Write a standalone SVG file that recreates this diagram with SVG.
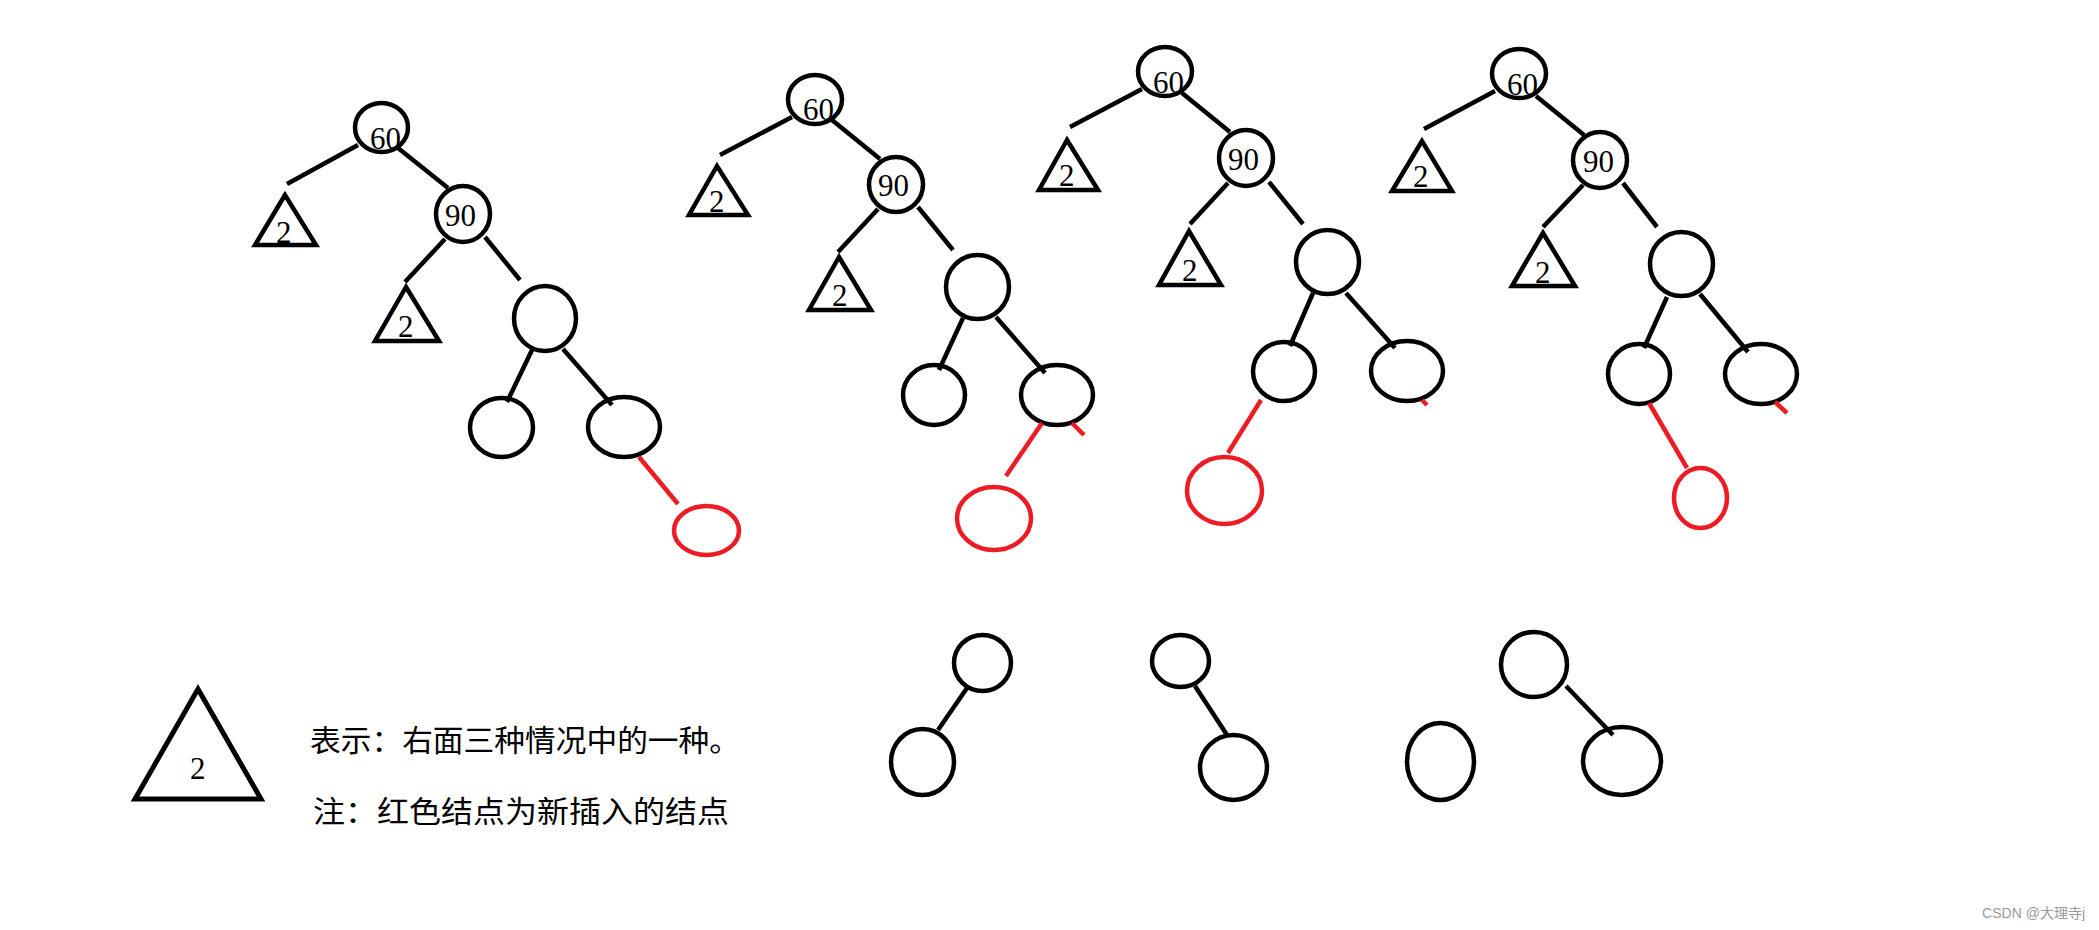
<svg xmlns="http://www.w3.org/2000/svg" width="2099" height="930" viewBox="0 0 2099 930">
<style>
.n{fill:none;stroke:#000;stroke-width:4.5}
.r{fill:none;stroke:#ED1C24;stroke-width:4.5}
.t{fill:none;stroke:#000;stroke-width:4.5;stroke-linejoin:miter}
.e line{stroke:#000;stroke-width:4.5}
.e line.red{stroke:#ED1C24}
.d{font-family:"Liberation Serif",serif;font-size:31px;fill:#000}
.cn{font-family:"Noto Sans CJK SC",sans-serif;font-size:30px;fill:#000}
</style>
<rect width="2099" height="930" fill="#fff"/>
<!-- Tree 1 -->
<g id="t1-n60"><ellipse class="n" cx="381.5" cy="127.5" rx="26.5" ry="24.5"/><text class="d" x="370" y="149">60</text></g>
<g id="t1-tri1"><polygon class="t" points="285,195 255,245 316,245"/><text class="d" x="276" y="243">2</text></g>
<g id="t1-n90"><ellipse class="n" cx="463" cy="214" rx="27" ry="28"/><text class="d" x="445" y="226">90</text></g>
<g id="t1-tri2"><polygon class="t" points="406,287 375,341 439,341"/><text class="d" x="398" y="337">2</text></g>
<g id="t1-c"><ellipse class="n" cx="545" cy="318.5" rx="31" ry="32.5"/></g>
<g id="t1-ll"><ellipse class="n" cx="501.5" cy="427.5" rx="31.5" ry="29.5"/></g>
<g id="t1-lr"><ellipse class="n" cx="624" cy="427" rx="36" ry="30"/></g>
<g id="t1-new"><ellipse class="r" cx="706.5" cy="530.5" rx="32.5" ry="24.5"/></g>
<!-- Tree 2 -->
<g id="t2-n60"><ellipse class="n" cx="815" cy="99.5" rx="27" ry="24.5"/><text class="d" x="803" y="120">60</text></g>
<g id="t2-tri1"><polygon class="t" points="717,166 689,215 748,215"/><text class="d" x="709" y="212">2</text></g>
<g id="t2-n90"><ellipse class="n" cx="896" cy="184.5" rx="27" ry="27.5"/><text class="d" x="878" y="196">90</text></g>
<g id="t2-tri2"><polygon class="t" points="839,257 809,310 871,310"/><text class="d" x="832" y="306">2</text></g>
<g id="t2-c"><ellipse class="n" cx="977.5" cy="287" rx="31.5" ry="32"/></g>
<g id="t2-ll"><ellipse class="n" cx="934" cy="395" rx="31" ry="30"/></g>
<g id="t2-lr"><ellipse class="n" cx="1057" cy="395" rx="36" ry="30"/></g>
<g id="t2-new"><ellipse class="r" cx="994" cy="518.5" rx="37" ry="31.5"/></g>
<!-- Tree 3 -->
<g id="t3-n60"><ellipse class="n" cx="1165" cy="71.5" rx="27" ry="24.5"/><text class="d" x="1153" y="93">60</text></g>
<g id="t3-tri1"><polygon class="t" points="1067,140 1039,190 1098,190"/><text class="d" x="1059" y="186">2</text></g>
<g id="t3-n90"><ellipse class="n" cx="1246" cy="158" rx="27" ry="28"/><text class="d" x="1228" y="170">90</text></g>
<g id="t3-tri2"><polygon class="t" points="1189,231 1159,285 1221,285"/><text class="d" x="1182" y="281">2</text></g>
<g id="t3-c"><ellipse class="n" cx="1327.5" cy="262" rx="31.5" ry="32"/></g>
<g id="t3-ll"><ellipse class="n" cx="1284" cy="371.5" rx="31" ry="29.5"/></g>
<g id="t3-lr"><ellipse class="n" cx="1407" cy="371" rx="36" ry="30"/></g>
<g id="t3-new"><ellipse class="r" cx="1224.5" cy="490.5" rx="37.5" ry="33.5"/></g>
<!-- Tree 4 -->
<g id="t4-n60"><ellipse class="n" cx="1519" cy="73.5" rx="27" ry="24.5"/><text class="d" x="1507" y="95">60</text></g>
<g id="t4-tri1"><polygon class="t" points="1422,141 1392,191 1452,191"/><text class="d" x="1413" y="187">2</text></g>
<g id="t4-n90"><ellipse class="n" cx="1600" cy="160" rx="27" ry="28"/><text class="d" x="1583" y="172">90</text></g>
<g id="t4-tri2"><polygon class="t" points="1543,233 1512,286 1575,286"/><text class="d" x="1535" y="283">2</text></g>
<g id="t4-c"><ellipse class="n" cx="1681.5" cy="264" rx="31.5" ry="32"/></g>
<g id="t4-ll"><ellipse class="n" cx="1639" cy="374" rx="31" ry="30"/></g>
<g id="t4-lr"><ellipse class="n" cx="1761" cy="374" rx="36" ry="30"/></g>
<g id="t4-new"><ellipse class="r" cx="1700.5" cy="498" rx="26.5" ry="30"/></g>
<!-- Bottom cases -->
<g id="b1-top"><ellipse class="n" cx="982.5" cy="663" rx="28.5" ry="28"/></g>
<g id="b1-bot"><ellipse class="n" cx="922.5" cy="762" rx="31.5" ry="33"/></g>
<g id="b2-top"><ellipse class="n" cx="1180.5" cy="661" rx="28.5" ry="26"/></g>
<g id="b2-bot"><ellipse class="n" cx="1233.5" cy="767.5" rx="33.5" ry="32.5"/></g>
<g id="b3-lone"><ellipse class="n" cx="1440.5" cy="761.5" rx="33.5" ry="38.5"/></g>
<g id="b3-top"><ellipse class="n" cx="1534" cy="664.5" rx="33" ry="32.5"/></g>
<g id="b3-bot"><ellipse class="n" cx="1622" cy="761" rx="39" ry="34"/></g>
<!-- Legend -->
<g id="legend-tri"><polygon fill="none" stroke="#000" stroke-width="5" points="198,689 135,799 261,799"/><text class="d" x="190" y="779">2</text></g>
<g id="legend-text">
<text class="cn" x="310" y="751" textLength="430" lengthAdjust="spacingAndGlyphs">表示：右面三种情况中的一种。</text>
<text class="cn" x="313" y="822" textLength="416" lengthAdjust="spacingAndGlyphs">注：红色结点为新插入的结点</text>
</g>
<g id="watermark"><text x="2085" y="918" text-anchor="end" style="font-family:'Liberation Sans','Noto Sans CJK SC',sans-serif;font-size:14px;fill:#999">CSDN @大理寺j</text></g>
<!-- Connectors -->
<g id="connectors" class="e">
<line x1="358" y1="145" x2="287" y2="184"/>
<line x1="398" y1="148" x2="448" y2="188"/>
<line x1="445" y1="239" x2="405" y2="282"/>
<line x1="485" y1="237" x2="520" y2="280"/>
<line x1="532" y1="350" x2="507" y2="402"/>
<line x1="563" y1="349" x2="612" y2="405"/>
<line class="red" x1="639" y1="457" x2="678" y2="504"/>
<line x1="792" y1="117" x2="720" y2="155"/>
<line x1="832" y1="120" x2="880" y2="159"/>
<line x1="878" y1="209" x2="838" y2="252"/>
<line x1="918" y1="207" x2="953" y2="250"/>
<line x1="963" y1="318" x2="939" y2="370"/>
<line x1="996" y1="317" x2="1045" y2="373"/>
<line class="red" x1="1042" y1="423" x2="1006" y2="476"/>
<line class="red" x1="1072" y1="423" x2="1084" y2="435"/>
<line x1="1142" y1="89" x2="1070" y2="127"/>
<line x1="1182" y1="93" x2="1230" y2="132"/>
<line x1="1228" y1="183" x2="1190" y2="224"/>
<line x1="1269" y1="182" x2="1303" y2="224"/>
<line x1="1313" y1="293" x2="1290" y2="346"/>
<line x1="1346" y1="293" x2="1395" y2="348"/>
<line class="red" x1="1261" y1="400" x2="1228" y2="453"/>
<line class="red" x1="1422" y1="400" x2="1427" y2="405"/>
<line x1="1495" y1="91" x2="1424" y2="129"/>
<line x1="1536" y1="96" x2="1584" y2="135"/>
<line x1="1583" y1="185" x2="1543" y2="227"/>
<line x1="1623" y1="183" x2="1657" y2="227"/>
<line x1="1667" y1="297" x2="1644" y2="348"/>
<line x1="1700" y1="294" x2="1748" y2="352"/>
<line class="red" x1="1649" y1="403" x2="1687" y2="468"/>
<line class="red" x1="1775" y1="402" x2="1787" y2="413"/>
<line x1="967" y1="688" x2="938" y2="730"/>
<line x1="1195" y1="686" x2="1227" y2="735"/>
<line x1="1566" y1="686" x2="1613" y2="735"/>
</g>
</svg>
